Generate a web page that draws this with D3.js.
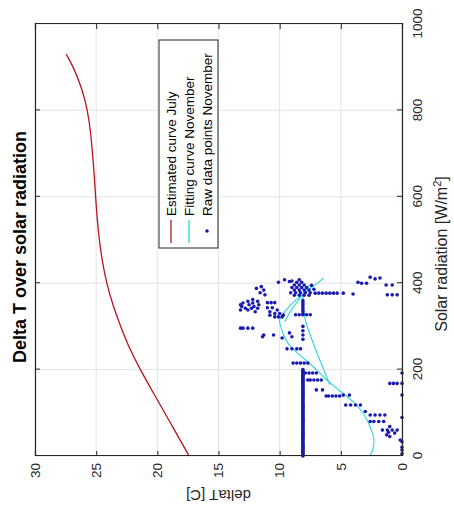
<!DOCTYPE html>
<html><head><meta charset="utf-8">
<script src="https://cdn.jsdelivr.net/npm/d3@7"></script>
<style>body{margin:0;background:#fff}svg{display:block}text{font-family:"Liberation Sans",Arial,sans-serif}</style>
</head><body>
<svg id="c" width="454" height="509"></svg>
<script>
// ---- data ----
const radTicks = [0,200,400,600,800,1000];
const dTTicks = [0,5,10,15,20,25,30];
// Estimated curve July
const julyRad = [0,50,100,150,200,250,300,350,400,450,500,550,600,650,700,750,800,850,900,930];
const julyDT  = [17.4,18.4,19.4,20.4,21.4,22.3,23.0,23.65,24.15,24.5,24.75,24.92,25.05,25.15,25.3,25.45,25.7,26.15,26.85,27.45];
// Fitting curve November (plotted over unsorted data, several branches)
const fitARad = [0,20,40,60,80,100,120,140,160,180,200,230,260,290,315,330,350,370,390,412];
const fitADT  = [2.6,2.35,2.3,2.5,2.8,3.2,3.8,4.6,5.5,6.3,7.0,8.2,9.3,9.8,10.0,9.7,9.1,8.3,7.4,6.4];
const fitBRad = [165,200,242,280,315,366,385];
const fitBDT  = [5.9,6.4,7.0,7.5,7.9,8.1,7.8];
const fitCRad = [310,340,370,395];
const fitCDT  = [9.6,9.0,8.2,7.6];
// Raw data points November
const rawRad = [0,2.5,5,7.5,10,12.5,15,17.5,20,22.5,25,27.5,30,32.5,35,37.5,40,42.5,45,47.5,50,52.5,55,57.5,60,62.5,65,67.5,70,72.5,75,77.5,80,82.5,85,87.5,90,92.5,95,97.5,
  100,102.5,105,107.5,110,112.5,115,117.5,120,122.5,125,127.5,130,132.5,135,137.5,140,142.5,145,147.5,150,152.5,155,157.5,160,162.5,165,167.5,170,172.5,175,177.5,180,182.5,185,187.5,190,192.5,195,197.5,200,
  5,14,20,33,37,49,53,60,60,60,60,68,45,55,80,80,80,80,89,95,95,95,95,103,118,118,118,118,141,141,139,139,139,139,139,141,153,153,168,168,168,168,176,176,176,176,176,192,192,192,192,192,
  215,215,215,215,215,248,248,248,248,270,280,290,300,276,273,280,280,296,296,296,296,285,276,
  330,335,340,345,350,355,360,327,327,327,327,327,
  372,372,372,372,378,378,378,378,378,384,384,384,384,390,390,390,390,396,396,396,402,402,408,404,408,405,402,395,386,
  373,378,384,388,392,
  334,338,342,342,342,346,346,350,350,354,354,358,358,362,338,350,
  355,355,355,
  322,322,322,326,330,330,334,338,343,343,326,
  377,377,377,377,377,377,377,377,375,
  400,400,402,412,410,414,396,396,373,373,373];
const rawDT = [8.1,8.1,8.1,8.1,8.1,8.1,8.1,8.1,8.1,8.1,8.1,8.1,8.1,8.1,8.1,8.1,8.1,8.1,8.1,8.1,8.1,8.1,8.1,8.1,8.1,8.1,8.1,8.1,8.1,8.1,8.1,8.1,8.1,8.1,8.1,8.1,8.1,8.1,8.1,8.1,
  8.1,8.1,8.1,8.1,8.1,8.1,8.1,8.1,8.1,8.1,8.1,8.1,8.1,8.1,8.1,8.1,8.1,8.1,8.1,8.1,8.1,8.1,8.1,8.1,8.1,8.1,8.1,8.1,8.1,8.1,8.1,8.1,8.1,8.1,8.1,8.1,8.1,8.1,8.1,8.1,8.1,
  0,0,0,0,0.15,1.25,0.6,0.4,0.8,1.2,1.6,1.0,1.0,1.1,1.5,1.9,2.3,2.6,0,1.4,1.8,2.2,2.6,3.0,3.4,3.8,4.2,4.6,4.3,4.8,5.1,5.4,5.7,6.0,6.2,0,6.5,7.0,0,0.4,0.7,1.0,6.6,6.9,7.2,7.5,7.7,7.0,7.3,7.6,7.9,0,
  7.7,8.0,8.3,8.6,8.9,8.3,8.6,9.0,9.4,8.1,8.1,8.1,8.1,9.0,9.8,10.5,11.3,12.2,12.6,13.0,13.2,9.2,11.4,
  8.1,8.1,8.1,8.1,8.1,8.1,8.1,7.5,7.8,8.1,8.4,8.7,
  7.6,8.0,8.4,8.8,7.5,7.9,8.3,8.7,9.1,7.6,8.0,8.4,8.8,7.8,8.2,8.6,9.0,8.0,8.4,8.8,8.2,8.6,8.4,9.2,9.6,9.0,10.1,7.4,7.2,
  11.2,11.6,11.3,11.9,11.5,
  12.0,12.6,11.8,12.3,12.8,13.1,12.1,11.7,12.5,13.0,12.2,11.8,12.6,12.2,13.2,13.2,
  10.4,10.7,11.0,
  9.8,10.1,10.4,9.7,10.0,10.4,10.8,10.2,10.6,11.0,10.8,
  7.1,6.8,6.5,6.2,5.9,5.6,5.3,4.8,4.0,
  2.9,3.3,3.6,1.8,2.2,2.6,0.8,1.3,0.4,0.8,1.2];
const seriesNames = ["Estimated curve July","Fitting curve November","Raw data points November"];

// ---- drawing (original figure frame 509 x 454, rotated -90deg) ----
const W = 509, H = 454;
const svg = d3.select("#c");
const g = svg.append("g").attr("transform", `translate(0,${W}) rotate(-90)`);
const x = d3.scaleLinear().domain([0,1000]).range([53,485]);
const y = d3.scaleLinear().domain([0,30]).range([402,35]);
const axisCol = "#262626", gridCol = "#e3e3e3";
const red = "#b8141f", cyan = "#2ad4dc", blue = "#1a1ab0";

// grid
g.append("g").selectAll("line").data(radTicks).join("line")
  .attr("x1", d=>x(d)).attr("x2", d=>x(d)).attr("y1", y(0)).attr("y2", y(30))
  .attr("stroke", gridCol).attr("stroke-width", 1);
g.append("g").selectAll("line").data(dTTicks).join("line")
  .attr("y1", d=>y(d)).attr("y2", d=>y(d)).attr("x1", x(0)).attr("x2", x(1000))
  .attr("stroke", gridCol).attr("stroke-width", 1);

// series
const line = d3.line().x(d=>x(d[0])).y(d=>y(d[1])).curve(d3.curveBasis);
g.append("path").datum(d3.zip(julyRad, julyDT)).attr("d", line)
  .attr("fill","none").attr("stroke", red).attr("stroke-width", 1.3);
const line2 = d3.line().x(d=>x(d[0])).y(d=>y(d[1])).curve(d3.curveCatmullRom);
[[fitARad,fitADT],[fitBRad,fitBDT],[fitCRad,fitCDT]].forEach(([r,t])=>{
  g.append("path").datum(d3.zip(r,t)).attr("d", line2)
    .attr("fill","none").attr("stroke", cyan).attr("stroke-width", 1.1);
});
g.append("g").selectAll("circle").data(d3.zip(rawRad, rawDT)).join("circle")
  .attr("cx", d=>x(d[0])).attr("cy", d=>y(d[1])).attr("r", 1.8).attr("fill", blue);

// axes
const fs = 13.5;
const ax = g.append("g").attr("transform", `translate(0,${y(0)})`)
  .call(d3.axisBottom(x).tickValues(radTicks).tickSize(-5).tickPadding(10).tickFormat(d3.format("d")));
const ay = g.append("g").attr("transform", `translate(${x(0)},0)`)
  .call(d3.axisLeft(y).tickValues(dTTicks).tickSize(-5).tickPadding(7).tickFormat(d3.format("d")));
const axT = g.append("g").attr("transform", `translate(0,${y(30)})`)
  .call(d3.axisTop(x).tickValues(radTicks).tickSize(-5).tickFormat(""));
const ayR = g.append("g").attr("transform", `translate(${x(1000)},0)`)
  .call(d3.axisRight(y).tickValues(dTTicks).tickSize(-5).tickFormat(""));
[ax,ay,axT,ayR].forEach(a=>{
  a.select(".domain").attr("stroke", axisCol).attr("stroke-width", 1.2);
  a.selectAll(".tick line").attr("stroke", axisCol);
  a.selectAll("text").attr("fill", "#262626").style("font-size", fs+"px").style("font-family", '"Liberation Sans",Arial,sans-serif');
});

// labels
g.append("text").attr("x", 262).attr("y", 26).attr("text-anchor","middle")
  .style("font-size","18px").style("font-weight","bold").attr("fill","#000").text("Delta T over solar radiation");
const xl = g.append("text").attr("x", 255).attr("y", 447).attr("text-anchor","middle")
  .style("font-size","16px").attr("fill","#262626");
xl.append("tspan").text("Solar radiation [W/m");
xl.append("tspan").attr("dy", -6).style("font-size","11px").text("2");
xl.append("tspan").attr("dy", 6).text("]");
g.append("text").attr("transform", `translate(19,${(y(0)+y(30))/2}) rotate(-90)`).attr("text-anchor","middle")
  .style("font-size","15px").attr("fill","#262626").text("deltaT [C]");

// legend
const lg = g.append("g");
lg.append("rect").attr("x", 261).attr("y", 159).attr("width", 208).attr("height", 59)
  .attr("fill","#fff").attr("stroke", axisCol).attr("stroke-width", 1);
const rows = [171, 189, 207];
lg.append("line").attr("x1",266).attr("x2",289).attr("y1",rows[0]).attr("y2",rows[0]).attr("stroke",red).attr("stroke-width",1.3);
lg.append("line").attr("x1",266).attr("x2",289).attr("y1",rows[1]).attr("y2",rows[1]).attr("stroke",cyan).attr("stroke-width",1.3);
lg.append("circle").attr("cx",278).attr("cy",rows[2]).attr("r",1.8).attr("fill",blue);
lg.selectAll("text.l").data(seriesNames).join("text").attr("class","l")
  .attr("x", 293).attr("y", (d,i)=>rows[i]).attr("dy","0.35em")
  .style("font-size","13.5px").attr("fill","#000").text(d=>d);
</script>
</body></html>
